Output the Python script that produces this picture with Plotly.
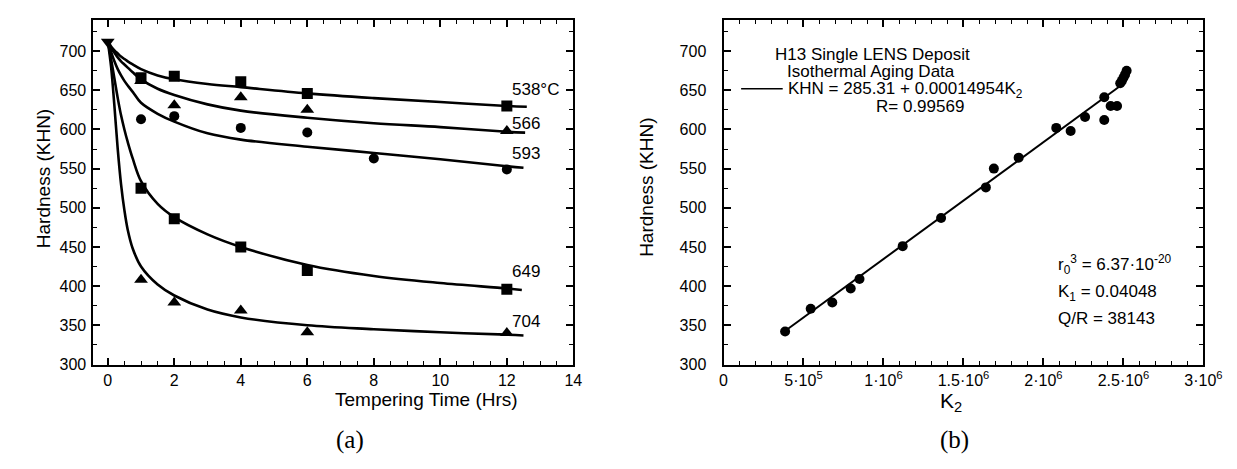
import plotly.graph_objects as go

W, H = 1237, 469
FONT = "Liberation Sans"

# ---------------- panel (a) data ----------------
t0 = [0]
h0 = [712]

t_538 = [1, 2, 4, 6, 12]
h_538 = [666, 668, 661, 646, 630]
t_566 = [1, 2, 4, 6, 12]
h_566 = [662, 631, 641, 625, 598]
t_593 = [1, 2, 4, 6, 8, 12]
h_593 = [613, 617, 602, 596, 563, 549]
t_649 = [1, 2, 4, 6, 12]
h_649 = [525, 486, 450, 420, 396]
t_704 = [1, 2, 4, 6, 12]
h_704 = [408, 379, 369, 341, 340]

fit_t = [0, 0.1, 0.2, 0.3, 0.4, 0.5, 0.6, 0.75, 1, 1.5, 2, 3, 4, 6, 8, 10, 12]
fit_538 = [713, 706, 701, 697, 693, 690, 687, 683, 677, 669, 664, 658, 654, 646, 640, 635, 630]
fit_566 = [713, 704, 698, 692, 687, 683, 679, 673, 664, 652, 644, 632, 624, 615, 608, 603, 597]
fit_593 = [713, 699, 687, 677, 669, 662, 656, 648, 634, 620, 610, 595, 587, 578, 570, 562, 553]
fit_649 = [713, 690, 665, 640, 618, 600, 584, 563, 534, 505, 488, 466, 450, 427, 413, 404, 397]
fit_704 = [713, 680, 630, 575, 530, 497, 472, 448, 425, 402, 388, 370, 360, 350, 345, 341, 338]
fit_end_t = [12.6, 12.55, 12.5, 12.45, 12.5]
fit_end_h = [629, 596, 551, 395, 337]

curve_labels = ["538\u00b0C", "566", "593", "649", "704"]
label_h = [651, 607, 569, 418, 355]

# ---------------- panel (b) data ----------------
k2 = [3.85e5, 5.45e5, 6.8e5, 7.95e5, 8.5e5, 1.12e6, 1.36e6, 1.64e6, 1.69e6,
      1.845e6, 2.08e6, 2.17e6, 2.26e6, 2.38e6, 2.38e6, 2.42e6, 2.46e6,
      2.48e6, 2.49e6, 2.50e6, 2.51e6, 2.52e6]
khn = [342, 371, 379, 397, 409, 451, 487, 526, 550,
       564, 602, 598, 616, 612, 641, 630, 630,
       659, 662, 666, 670, 675]
reg_k2 = [3.8e5, 2.49e6]
reg_khn = [342, 657]

k2_ticks = [0, 5e5, 1e6, 1.5e6, 2e6, 2.5e6, 3e6]
k2_ticktext = ["0", "5\u00b710<sup>5</sup>", "1\u00b710<sup>6</sup>",
               "1.5\u00b710<sup>6</sup>", "2\u00b710<sup>6</sup>",
               "2.5\u00b710<sup>6</sup>", "3\u00b710<sup>6</sup>"]

fig = go.Figure()

# fitted curves (a)
for fy, et, eh in zip([fit_538, fit_566, fit_593, fit_649, fit_704], fit_end_t, fit_end_h):
    fig.add_trace(go.Scatter(x=fit_t + [et], y=fy + [eh], mode="lines",
                             line=dict(color="black", width=2.6, shape="spline", smoothing=1.0),
                             xaxis="x", yaxis="y", showlegend=False, hoverinfo="skip"))

for tx, hy, sym, sz in [(t_538, h_538, "square", 11), (t_566, h_566, "triangle-up", 12),
                        (t_593, h_593, "circle", 10), (t_649, h_649, "square", 11),
                        (t_704, h_704, "triangle-up", 12)]:
    fig.add_trace(go.Scatter(x=tx, y=hy, mode="markers",
                             marker=dict(symbol=sym, color="black", size=sz),
                             xaxis="x", yaxis="y", showlegend=False))
fig.add_trace(go.Scatter(x=t0, y=h0, mode="markers",
                         marker=dict(symbol="triangle-down", color="black", size=12),
                         xaxis="x", yaxis="y", showlegend=False))

# panel (b)
fig.add_trace(go.Scatter(x=reg_k2, y=reg_khn, mode="lines",
                         line=dict(color="black", width=2),
                         xaxis="x2", yaxis="y2", showlegend=False))
fig.add_trace(go.Scatter(x=k2, y=khn, mode="markers",
                         marker=dict(symbol="circle", color="black", size=10),
                         xaxis="x2", yaxis="y2", showlegend=False))

def px(x):
    return x / W

def py(y):
    return 1 - y / H

ax_common = dict(showline=True, linewidth=2, linecolor="black", mirror="allticks",
                 ticks="inside", ticklen=7, tickwidth=1.5, tickcolor="black",
                 showgrid=False, zeroline=False,
                 tickfont=dict(family=FONT, size=16, color="black"))
minor_common = dict(ticklen=4, ticks="inside", tickcolor="black", tickwidth=1.2, showgrid=False)

fig.update_layout(
    width=W, height=H, margin=dict(l=0, r=0, t=0, b=0),
    paper_bgcolor="white", plot_bgcolor="white",
    font=dict(family=FONT, color="black"),
    xaxis=dict(domain=[px(83), px(572)], range=[-0.43, 14], dtick=2, tick0=0,
               minor=dict(dtick=0.5, **minor_common),
               anchor="y", **ax_common),
    yaxis=dict(domain=[py(363), py(12)], range=[299.5, 740], dtick=50, tick0=300,
               minor=dict(dtick=25, **minor_common),
               anchor="x", ticklabelstandoff=2, **ax_common),
    xaxis2=dict(domain=[px(725), px(1214)], range=[0, 3e6],
                tickmode="array", tickvals=k2_ticks, ticktext=k2_ticktext,
                minor=dict(dtick=1e5, **minor_common),
                anchor="y2", **ax_common),
    yaxis2=dict(domain=[py(363), py(12)], range=[299.5, 740], dtick=50, tick0=300,
                minor=dict(dtick=25, **minor_common),
                anchor="x2", ticklabelstandoff=12, **ax_common),
)

ann = []
# curve labels (a)
for lab, lh in zip(curve_labels, label_h):
    ann.append(dict(x=12.1, y=lh, xref="x", yref="y", text=lab, showarrow=False,
                    xanchor="left", yanchor="middle",
                    font=dict(family=FONT, size=17, color="black")))

# axis titles
ann.append(dict(x=px(327), y=py(411), xref="paper", yref="paper",
                text="Tempering Time (Hrs)", showarrow=False,
                font=dict(family=FONT, size=19, color="black")))
ann.append(dict(x=px(19), y=py(174), xref="paper", yref="paper",
                text="Hardness (KHN)", textangle=-90, showarrow=False,
                font=dict(family=FONT, size=19, color="black")))
ann.append(dict(x=px(970), y=py(416), xref="paper", yref="paper",
                text="K<sub>2</sub>", showarrow=False,
                font=dict(family=FONT, size=21, color="black")))
ann.append(dict(x=px(647), y=py(182), xref="paper", yref="paper",
                text="Hardness (KHN)", textangle=-90, showarrow=False,
                font=dict(family=FONT, size=19, color="black")))
# panel letters
ann.append(dict(x=px(328), y=py(456), xref="paper", yref="paper",
                text="(a)", showarrow=False,
                font=dict(family="Liberation Serif", size=25, color="black")))
ann.append(dict(x=px(977), y=py(456), xref="paper", yref="paper",
                text="(b)", showarrow=False,
                font=dict(family="Liberation Serif", size=25, color="black")))

# panel (b) texts
tf = dict(family=FONT, size=17, color="black")
ann.append(dict(x=0.93e6, y=696, xref="x2", yref="y2", text="H13 Single LENS Deposit",
                showarrow=False, font=tf))
ann.append(dict(x=0.92e6, y=674, xref="x2", yref="y2", text="Isothermal Aging Data",
                showarrow=False, font=tf))
ann.append(dict(x=3.9e5, y=651, xref="x2", yref="y2",
                text="KHN = 285.31 + 0.00014954K<sub>2</sub>",
                showarrow=False, xanchor="left", font=tf))
ann.append(dict(x=1.23e6, y=629, xref="x2", yref="y2", text="R= 0.99569",
                showarrow=False, font=tf))
ann.append(dict(x=2.08e6, y=427, xref="x2", yref="y2",
                text="r<sub>0</sub><sup>3</sup> = 6.37\u00b710<sup>-20</sup>",
                showarrow=False, xanchor="left", font=tf))
ann.append(dict(x=2.08e6, y=391, xref="x2", yref="y2",
                text="K<sub>1</sub> = 0.04048",
                showarrow=False, xanchor="left", font=tf))
ann.append(dict(x=2.08e6, y=358, xref="x2", yref="y2",
                text="Q/R = 38143",
                showarrow=False, xanchor="left", font=tf))

fig.update_layout(annotations=ann)

# legend line segment in panel (b)
fig.add_shape(type="line", x0=1.1e5, x1=3.7e5, y0=652, y1=652, xref="x2", yref="y2",
              line=dict(color="black", width=1.5))

fig.write_html("out.html")
